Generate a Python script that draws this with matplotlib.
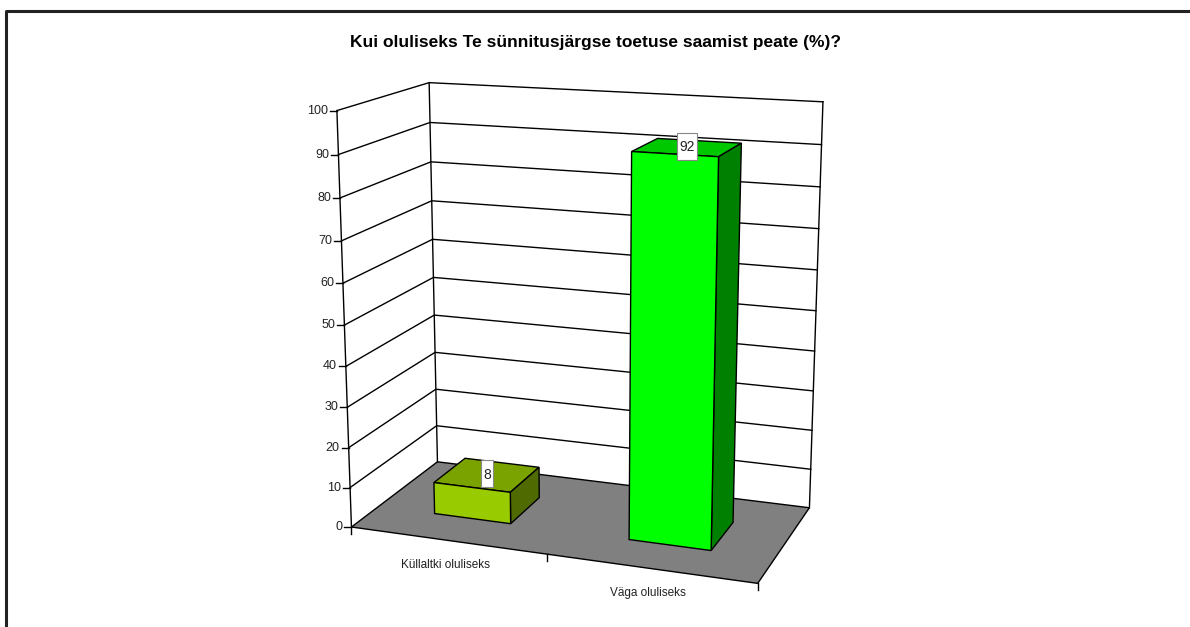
import numpy as np
import matplotlib.pyplot as plt
from matplotlib.patches import Polygon, Rectangle

categories = ["Küllaltki oluliseks", "Väga oluliseks"]
values = [8, 92]
value_ticks = [0, 10, 20, 30, 40, 50, 60, 70, 80, 90, 100]
title = "Kui oluliseks Te sünnitusjärgse toetuse saamist peate (%)?"

# colours per bar: front, top, side
bar_colors = [("#99CC00", "#7AA300", "#4F6A00"),
              ("#00FF00", "#00C800", "#008000")]

# frame corners (u: category axis 0..1, v: value 0..100, w: depth 0 front..1 back) -> pixels
ref3d = np.array([[0, 0, 0], [0, 100, 0], [0, 0, 1], [0, 100, 1],
                  [1, 0, 1], [1, 100, 1], [1, 0, 0]], float)
ref2d = np.array([[352, 527], [337, 110], [437, 462], [429, 83],
                  [810, 507], [823, 102], [757, 584]], float)

rows = []
for (u, v, w), (x, y) in zip(ref3d, ref2d):
    X = [u, v / 100, w, 1]
    rows.append(X + [0, 0, 0, 0] + [-x * c for c in X])
    rows.append([0, 0, 0, 0] + X + [-y * c for c in X])
P = np.linalg.svd(np.array(rows))[2][-1].reshape(3, 4)


def proj(u, v, w):
    p = P @ np.array([u, v / 100, w, 1.0])
    return p[0] / p[2], p[1] / p[2]


plt.rcParams['font.family'] = ['Liberation Sans', 'DejaVu Sans']

fig = plt.figure(figsize=(11.9, 6.27), dpi=100)
ax = fig.add_axes([0, 0, 1, 1])
ax.set_xlim(0, 1190)
ax.set_ylim(627, 0)
ax.axis("off")

# outer frame (top and left edges visible)
ax.plot([6, 6, 1190], [627, 11, 11], color="#222222", lw=2.2, solid_capstyle="butt")

ax.text(595, 43, title, ha="center", va="center", fontsize=12.5, fontweight="bold")

lw = 1.0
floor = [proj(0, 0, 0), proj(1, 0, 0), proj(1, 0, 1), proj(0, 0, 1)]
ax.add_patch(Polygon(floor, closed=True, facecolor="#808080", edgecolor="black", lw=lw, zorder=1))

for v in value_ticks[1:]:
    xs, ys = zip(proj(0, v, 0), proj(0, v, 1), proj(1, v, 1))
    ax.plot(xs, ys, color="black", lw=lw, zorder=2)
for u, w in [(0, 0), (0, 1), (1, 1)]:
    xs, ys = zip(proj(u, 0, w), proj(u, 100, w))
    ax.plot(xs, ys, color="black", lw=lw, zorder=2)

# value axis ticks and labels
for v in value_ticks:
    x, y = proj(0, v, 0)
    ax.plot([x - 7, x], [y, y], color="black", lw=lw)
    ax.text(x - 9, y, str(v), ha="right", va="center", fontsize=9, color="#222222")

# category axis ticks and labels
n = len(categories)
for i in range(n + 1):
    x, y = proj(i / n, 0, 0)
    ax.plot([x, x], [y, y + 7], color="black", lw=lw)
for i, cat in enumerate(categories):
    x, y = proj((i + 0.5) / n, 0, 0)
    ax.text(x - 2, y + 25, cat, ha="center", va="center", fontsize=8.5, color="#222222")

# bars
half = 0.2 / 2
w0, w1 = 0.3, 0.68
for i, (val, (cf, ct, cs)) in enumerate(zip(values, bar_colors)):
    c = (i + 0.5) / n
    u0, u1 = c - half, c + half
    top = [proj(u0, val, w0), proj(u1, val, w0), proj(u1, val, w1), proj(u0, val, w1)]
    side = [proj(u1, 0, w0), proj(u1, 0, w1), proj(u1, val, w1), proj(u1, val, w0)]
    front = [proj(u0, 0, w0), proj(u1, 0, w0), proj(u1, val, w0), proj(u0, val, w0)]
    for poly, col in [(top, ct), (side, cs), (front, cf)]:
        ax.add_patch(Polygon(poly, closed=True, facecolor=col, edgecolor="black", lw=lw, zorder=3))
    lx, ly = proj(c, val, (w0 + w1) / 2)
    bw, bh = 4 + 8 * len(str(val)), 27
    ax.add_patch(Rectangle((lx - bw / 2, ly - bh / 2 - 1), bw, bh, facecolor="white",
                           edgecolor="#888888", lw=0.8, zorder=4))
    ax.text(lx, ly, str(val), ha="center", va="center", fontsize=10, color="#222222", zorder=5)

plt.savefig("out.png", dpi=100)
